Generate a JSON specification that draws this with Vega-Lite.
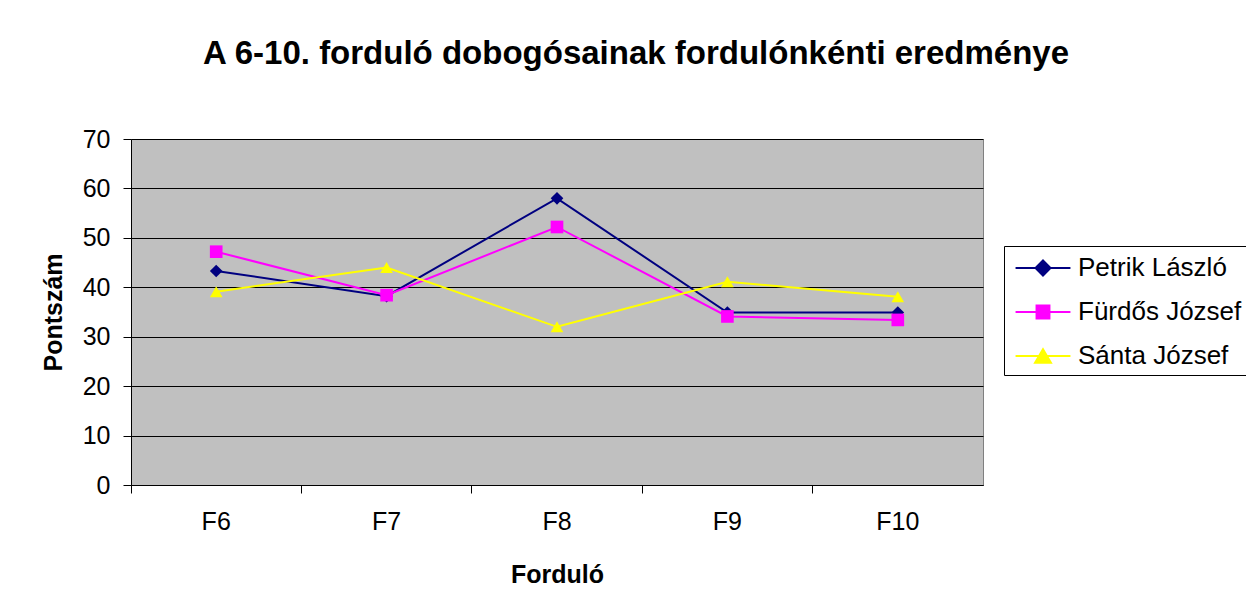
{
  "$schema": "https://vega.github.io/schema/vega-lite/v6.json",
  "width": 852,
  "height": 346,
  "autosize": "none",
  "padding": {"left": 131, "top": 139, "right": 263, "bottom": 126},
  "background": "white",
  "title": {
    "text": "A 6-10. forduló dobogósainak fordulónkénti eredménye",
    "font": "Liberation Sans",
    "fontSize": 33,
    "fontWeight": "bold",
    "color": "black",
    "anchor": "middle",
    "dx": 79,
    "offset": 56
  },
  "config": {
    "font": "Liberation Sans",
    "view": {"fill": "#C0C0C0", "stroke": "#808080", "strokeWidth": 1}
  },
  "data": {
    "values": [
      {"round": "F6", "name": "Petrik László", "score": 43.3},
      {"round": "F7", "name": "Petrik László", "score": 38.2},
      {"round": "F8", "name": "Petrik László", "score": 58},
      {"round": "F9", "name": "Petrik László", "score": 34.9},
      {"round": "F10", "name": "Petrik László", "score": 34.9},
      {"round": "F6", "name": "Fürdős József", "score": 47.2},
      {"round": "F7", "name": "Fürdős József", "score": 38.4},
      {"round": "F8", "name": "Fürdős József", "score": 52.2},
      {"round": "F9", "name": "Fürdős József", "score": 34.1},
      {"round": "F10", "name": "Fürdős József", "score": 33.4},
      {"round": "F6", "name": "Sánta József", "score": 39.1},
      {"round": "F7", "name": "Sánta József", "score": 44},
      {"round": "F8", "name": "Sánta József", "score": 32},
      {"round": "F9", "name": "Sánta József", "score": 41.1},
      {"round": "F10", "name": "Sánta József", "score": 38.1}
    ]
  },
  "encoding": {
    "x": {
      "field": "round",
      "type": "ordinal",
      "bandPosition": 0.5,
      "sort": ["F6", "F7", "F8", "F9", "F10"],
      "scale": {"type": "band", "paddingInner": 0, "paddingOuter": 0},
      "axis": {
        "title": "Forduló",
        "titleFont": "Liberation Sans",
        "titleFontSize": 25,
        "titleFontWeight": "bold",
        "titleColor": "black",
        "titlePadding": 28,
        "labelFont": "Liberation Sans",
        "labelFontSize": 25,
        "labelColor": "black",
        "labelAngle": 0,
        "labelPadding": 16,
        "bandPosition": 0,
        "tickSize": 8,
        "tickColor": "black",
        "domainColor": "black",
        "grid": false
      }
    },
    "y": {
      "field": "score",
      "type": "quantitative",
      "scale": {"domain": [0, 70], "nice": false, "zero": true},
      "axis": {
        "values": [0, 10, 20, 30, 40, 50, 60, 70],
        "title": "Pontszám",
        "titleFont": "Liberation Sans",
        "titleFontSize": 25,
        "titleFontWeight": "bold",
        "titleColor": "black",
        "titlePadding": 16,
        "labelFont": "Liberation Sans",
        "labelFontSize": 25,
        "labelColor": "black",
        "labelPadding": 13,
        "tickSize": 8,
        "tickColor": "black",
        "domainColor": "black",
        "grid": true,
        "gridColor": "black",
        "gridOpacity": 1
      }
    }
  },
  "layer": [
    {
      "mark": {"type": "line", "strokeWidth": 2},
      "encoding": {
        "color": {
          "field": "name",
          "type": "nominal",
          "scale": {"domain": ["Petrik László", "Fürdős József", "Sánta József"], "range": ["#000080", "#FF00FF", "#FFFF00"]},
          "legend": null
        }
      }
    },
    {
      "mark": {"type": "point", "filled": true, "opacity": 1, "size": 160},
      "encoding": {
        "color": {
          "field": "name",
          "type": "nominal",
          "scale": {"domain": ["Petrik László", "Fürdős József", "Sánta József"], "range": ["#000080", "#FF00FF", "#FFFF00"]},
          "legend": null
        },
        "shape": {
          "field": "name",
          "type": "nominal",
          "scale": {"domain": ["Petrik László", "Fürdős József", "Sánta József"], "range": ["diamond", "square", "triangle-up"]},
          "legend": null
        }
      }
    },
    {
      "mark": {"type": "point", "filled": true, "opacity": 1, "size": 0},
      "encoding": {
        "fill": {
          "field": "name",
          "type": "nominal",
          "scale": {"domain": ["Petrik László", "Fürdős József", "Sánta József"], "range": ["#000080", "#FF00FF", "#FFFF00"]},
          "legend": {
            "title": null,
            "orient": "none",
            "legendX": 873,
            "legendY": 107,
            "fillColor": "white",
            "strokeColor": "black",
            "padding": 6,
            "labelFont": "Liberation Sans",
            "labelFontSize": 26,
            "labelColor": "black",
            "labelLimit": 400,
            "symbolSize": 900,
            "symbolStrokeWidth": 2,
            "symbolOpacity": 1,
            "symbolOffset": 17,
            "rowPadding": 15,
            "labelOffset": 19
          }
        },
        "stroke": {
          "field": "name",
          "type": "nominal",
          "scale": {"domain": ["Petrik László", "Fürdős József", "Sánta József"], "range": ["#000080", "#FF00FF", "#FFFF00"]},
          "legend": {
            "title": null,
            "orient": "none",
            "legendX": 873,
            "legendY": 107,
            "fillColor": "white",
            "strokeColor": "black",
            "padding": 6,
            "labelFont": "Liberation Sans",
            "labelFontSize": 26,
            "labelColor": "black",
            "labelLimit": 400,
            "symbolSize": 900,
            "symbolStrokeWidth": 2,
            "symbolOpacity": 1,
            "symbolOffset": 17,
            "rowPadding": 15,
            "labelOffset": 19
          }
        },
        "shape": {
          "field": "name",
          "type": "nominal",
          "scale": {
            "domain": ["Petrik László", "Fürdős József", "Sánta József"],
            "range": [
              "M-1.83,0L1.83,0M0,-0.5L0.5,0L0,0.5L-0.5,0Z",
              "M-1.83,0L1.83,0M-0.43,-0.43L0.43,-0.43L0.43,0.43L-0.43,0.43Z",
              "M-1.83,0L1.83,0M0,-0.45L0.53,0.45L-0.53,0.45Z"
            ]
          },
          "legend": {
            "title": null,
            "orient": "none",
            "legendX": 873,
            "legendY": 107,
            "fillColor": "white",
            "strokeColor": "black",
            "padding": 6,
            "labelFont": "Liberation Sans",
            "labelFontSize": 26,
            "labelColor": "black",
            "labelLimit": 400,
            "symbolSize": 900,
            "symbolStrokeWidth": 2,
            "symbolOpacity": 1,
            "symbolOffset": 17,
            "rowPadding": 15,
            "labelOffset": 19
          }
        }
      }
    }
  ],
  "resolve": {
    "scale": {"shape": "independent", "fill": "independent", "stroke": "independent"},
    "legend": {"shape": "independent", "fill": "independent", "stroke": "independent"}
  }
}
